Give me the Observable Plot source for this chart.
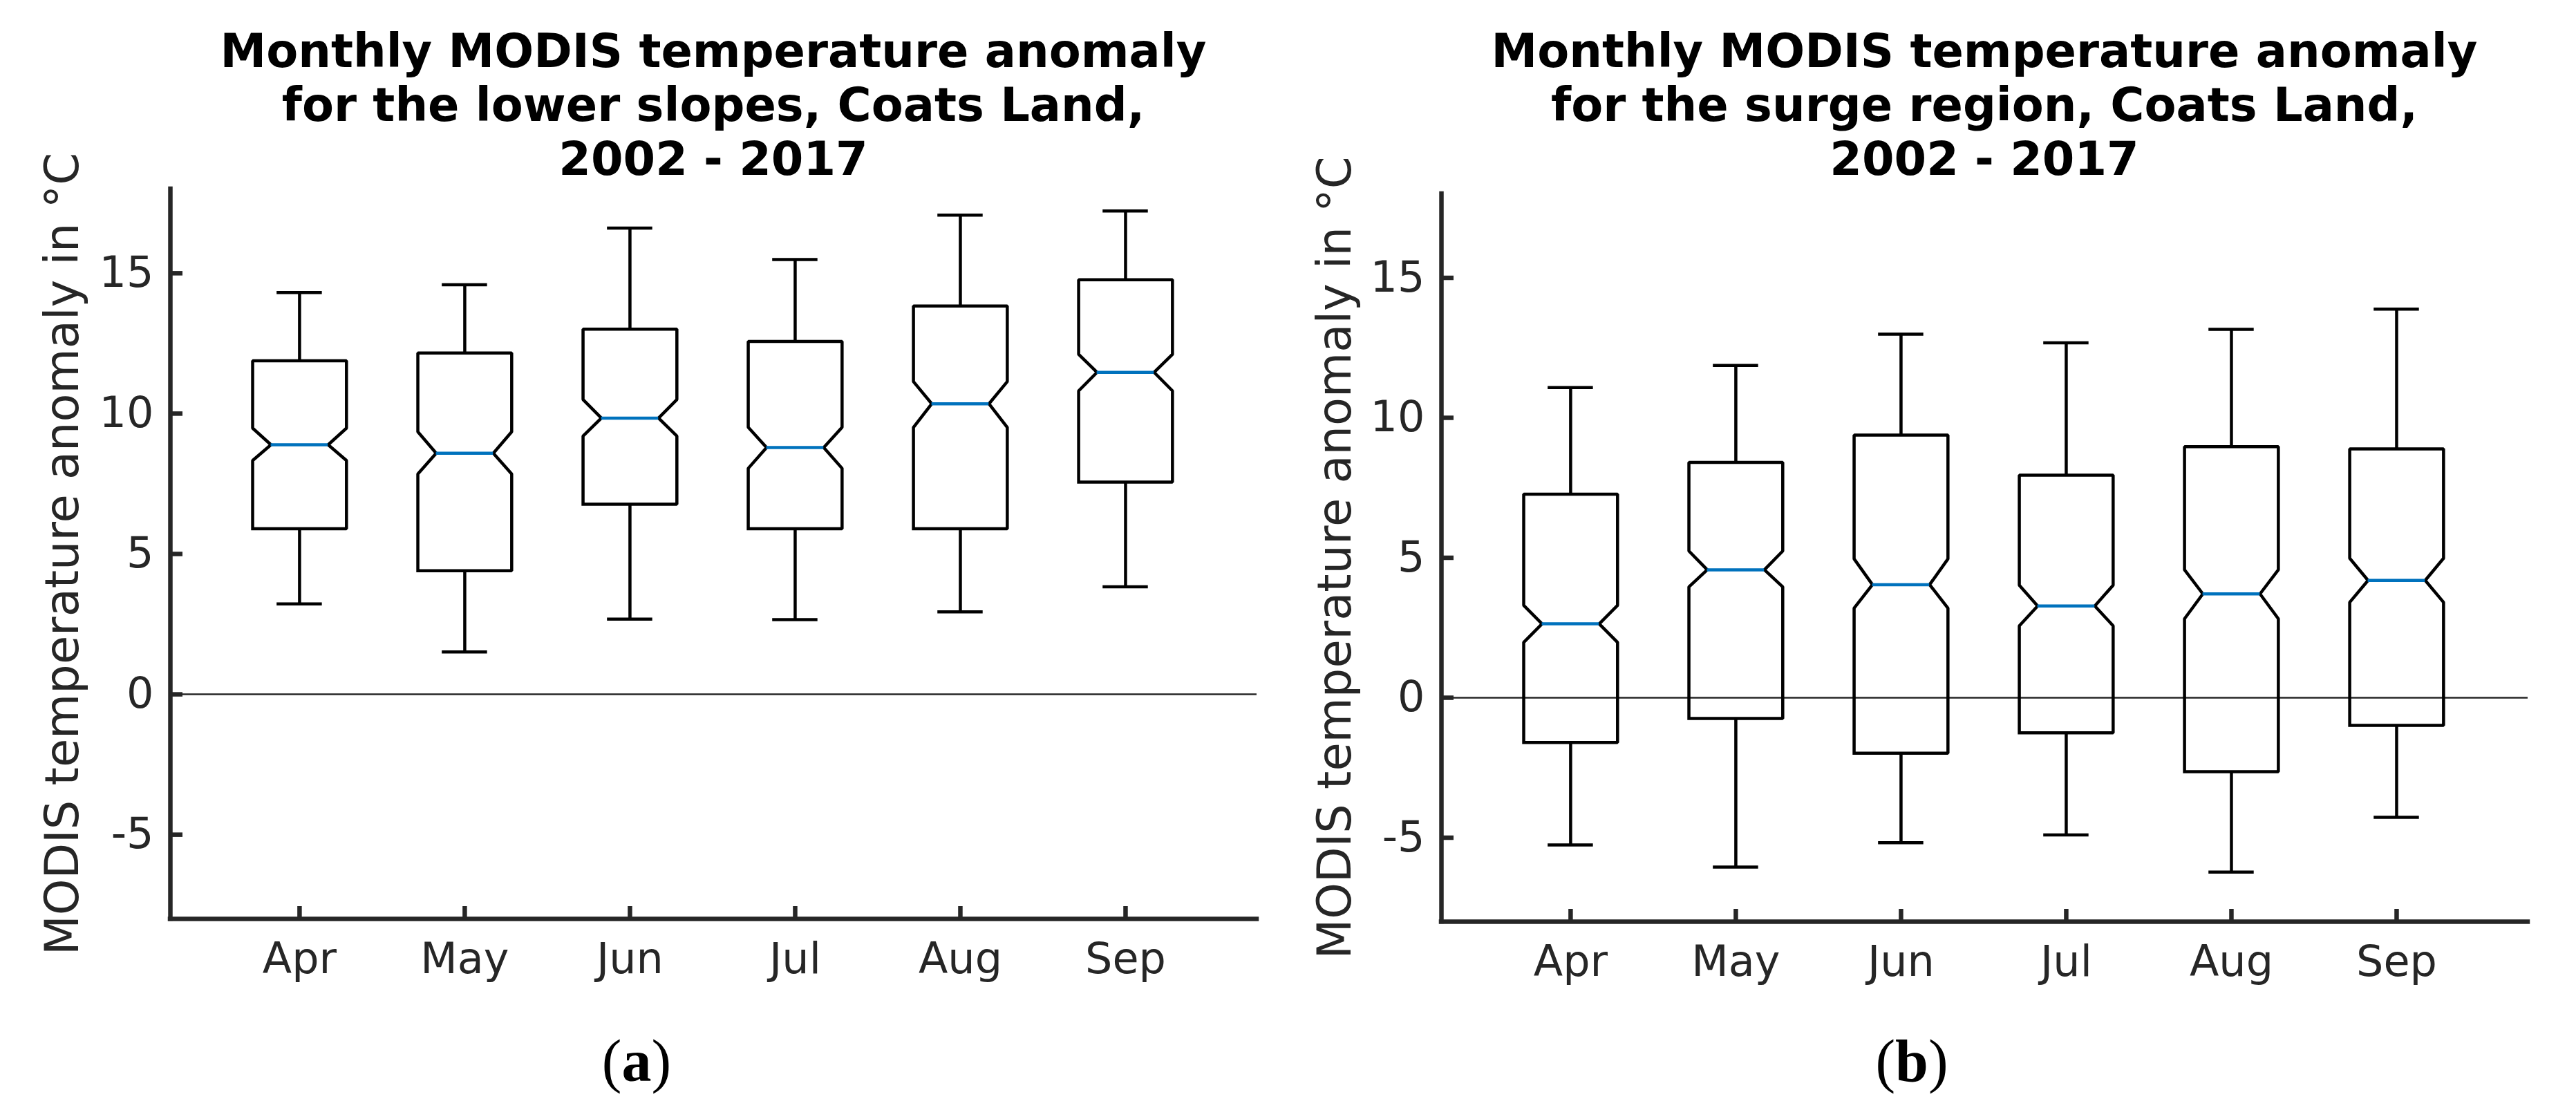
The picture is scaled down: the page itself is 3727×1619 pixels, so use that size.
<!DOCTYPE html>
<html>
<head>
<meta charset="utf-8">
<script src="https://cdn.jsdelivr.net/npm/d3@7"></script>
<script src="https://cdn.jsdelivr.net/npm/@observablehq/plot@0.6"></script>
<style>
  html, body { margin: 0; padding: 0; background: #fff; }
  #fig { position: relative; width: 3727px; height: 1619px; background: #fff; overflow: hidden; }
  .title { position: absolute; font-family: "DejaVu Sans"; font-weight: bold; font-size: 67px;
           line-height: 78px; text-align: center; color: #000; white-space: nowrap; transform: translateX(-50%); }
  .cap { position: absolute; font-family: "Liberation Serif"; font-size: 86px; line-height: 86px;
         color: #000; white-space: nowrap; transform: translateX(-50%); }
  .panel { position: absolute; }
</style>
</head>
<body>
<div id="fig"></div>
<script>
// ---------- data ----------
const months = ["Apr", "May", "Jun", "Jul", "Aug", "Sep"];
const monthIndex = [1, 2, 3, 4, 5, 6];
const yTicks = [-5, 0, 5, 10, 15];
const yLabel = "MODIS temperature anomaly in °C";

const titleA = ["Monthly MODIS temperature anomaly", "for the lower slopes, Coats Land,", "2002 - 2017"];
const titleB = ["Monthly MODIS temperature anomaly", "for the surge region, Coats Land,", "2002 - 2017"];
const captionA = "a";
const captionB = "b";

// (a) lower slopes
const slopesWhiskerLow  = [3.22, 1.51, 2.68, 2.66, 2.94, 3.83];
const slopesQ1          = [5.90, 4.40, 6.77, 5.90, 5.90, 7.56];
const slopesNotchLow    = [8.33, 7.85, 9.20, 8.05, 9.51, 10.81];
const slopesMedian      = [8.89, 8.59, 9.84, 8.79, 10.35, 11.47];
const slopesNotchHigh   = [9.48, 9.35, 10.50, 9.51, 11.14, 12.11];
const slopesQ3          = [11.88, 12.16, 13.01, 12.57, 13.83, 14.77];
const slopesWhiskerHigh = [14.31, 14.59, 16.61, 15.49, 17.07, 17.22];

// (b) surge region
const surgeWhiskerLow  = [-5.26, -6.05, -5.18, -4.90, -6.23, -4.27];
const surgeQ1          = [-1.60, -0.74, -1.98, -1.25, -2.64, -0.99];
const surgeNotchLow    = [1.98, 3.96, 3.20, 2.57, 2.82, 3.41];
const surgeMedian      = [2.64, 4.57, 4.04, 3.28, 3.71, 4.19];
const surgeNotchHigh   = [3.30, 5.24, 4.96, 4.02, 4.57, 4.98];
const surgeQ3          = [7.27, 8.41, 9.38, 7.95, 8.97, 8.89];
const surgeWhiskerHigh = [11.08, 11.87, 12.99, 12.68, 13.16, 13.88];

// ---------- styling constants ----------
const HW = 0.284;   // box half width (x units)
const NW = 0.173;   // notch half width at median
const CW = 0.137;   // whisker cap half width
const X_DOMAIN = [0.218, 6.795];
const Y_DOMAIN = [-8, 18];
const AXIS = "#262626";

function table(lo, q1, nlo, med, nhi, q3, hi) {
  return months.map((m, i) => ({
    month: m, i: monthIndex[i], lo: lo[i], q1: q1[i], nlo: nlo[i], med: med[i], nhi: nhi[i], q3: q3[i], hi: hi[i]
  }));
}

function outline(rows) {
  const pts = [];
  for (const r of rows) {
    const c = r.i;
    [[c - HW, r.q1], [c - HW, r.nlo], [c - NW, r.med], [c - HW, r.nhi], [c - HW, r.q3],
     [c + HW, r.q3], [c + HW, r.nhi], [c + NW, r.med], [c + HW, r.nlo], [c + HW, r.q1], [c - HW, r.q1]]
      .forEach(([x, y]) => pts.push({ month: r.month, x, y }));
  }
  return pts;
}

function panel(rows, g) {
  const innerW = g.width - g.marginLeft - g.marginRight;
  const innerH = g.height - g.marginTop - g.marginBottom;
  const boxStroke = { stroke: "#000", strokeWidth: 4.5 };
  return Plot.plot({
    width: g.width, height: g.height,
    marginLeft: g.marginLeft, marginRight: g.marginRight, marginTop: g.marginTop, marginBottom: g.marginBottom,
    style: { background: "transparent", fontFamily: "DejaVu Sans", color: AXIS, overflow: "visible" },
    x: { domain: X_DOMAIN, axis: null },
    y: { domain: Y_DOMAIN, axis: null },
    marks: [
      Plot.ruleY([0], { stroke: AXIS, strokeWidth: 2.5 }),
      Plot.ruleX(rows, { x: "i", y1: "q3", y2: "hi", ...boxStroke }),
      Plot.ruleX(rows, { x: "i", y1: "lo", y2: "q1", ...boxStroke }),
      Plot.ruleY(rows, { y: "hi", x1: d => d.i - CW, x2: d => d.i + CW, ...boxStroke }),
      Plot.ruleY(rows, { y: "lo", x1: d => d.i - CW, x2: d => d.i + CW, ...boxStroke }),
      Plot.line(outline(rows), { x: "x", y: "y", z: "month", ...boxStroke, strokeLinejoin: "miter", strokeLinecap: "square" }),
      Plot.ruleY(rows, { y: "med", x1: d => d.i - NW, x2: d => d.i + NW, stroke: "#0072BD", strokeWidth: 4.5 }),
      // axis lines
      Plot.ruleX([X_DOMAIN[0]], { stroke: AXIS, strokeWidth: 6.5, strokeLinecap: "square" }),
      Plot.ruleY([Y_DOMAIN[0]], { stroke: AXIS, strokeWidth: 6.5, strokeLinecap: "square" }),
      // inward ticks
      Plot.tickY(yTicks, { y: d => d, insetRight: innerW - 18, stroke: AXIS, strokeWidth: 6.5 }),
      Plot.tickX(monthIndex, { x: d => d, insetTop: innerH - 18, stroke: AXIS, strokeWidth: 6.5 }),
      // tick labels
      Plot.axisY({ ticks: yTicks, tickSize: 0, tickPadding: 24, fontSize: 62, label: null, tickFormat: d => String(d) }),
      Plot.axisX({ ticks: monthIndex, tickSize: 0, tickPadding: 34, fontSize: 62, label: null, tickFormat: d => months[d - 1] }),
      // y label
      Plot.text([yLabel], { frameAnchor: "left", textAnchor: "middle", lineAnchor: "middle", rotate: -90, dx: g.labelDx, fontSize: 67, text: d => d, fill: AXIS })
    ]
  });
}

const fig = document.getElementById("fig");

function addTitle(lines, cx) {
  const t = document.createElement("div");
  t.className = "title";
  t.style.left = cx + "px";
  t.style.top = "35px";
  t.innerHTML = lines.join("<br>");
  fig.appendChild(t);
}
function addCaption(letter, cx) {
  const c = document.createElement("div");
  c.className = "cap";
  c.style.left = cx + "px";
  c.style.top = "1492px";
  c.innerHTML = "(<b>" + letter + "</b>)";
  fig.appendChild(c);
}

const geomA = { left: 0, top: 200, width: 1864, height: 1250, marginLeft: 246, marginRight: 46, marginTop: 73, marginBottom: 121, labelDx: -155 };
const geomB = { left: 1864, top: 200, width: 1863, height: 1250, marginLeft: 221, marginRight: 70, marginTop: 80, marginBottom: 117, labelDx: -153 };

const rowsA = table(slopesWhiskerLow, slopesQ1, slopesNotchLow, slopesMedian, slopesNotchHigh, slopesQ3, slopesWhiskerHigh);
const rowsB = table(surgeWhiskerLow, surgeQ1, surgeNotchLow, surgeMedian, surgeNotchHigh, surgeQ3, surgeWhiskerHigh);

for (const [rows, g] of [[rowsA, geomA], [rowsB, geomB]]) {
  const d = document.createElement("div");
  d.className = "panel";
  d.style.left = g.left + "px";
  d.style.top = g.top + "px";
  d.appendChild(panel(rows, g));
  fig.appendChild(d);
}

addTitle(titleA, 1032);
addTitle(titleB, 2871);
addCaption(captionA, 921);
addCaption(captionB, 2766);
</script>
</body>
</html>
